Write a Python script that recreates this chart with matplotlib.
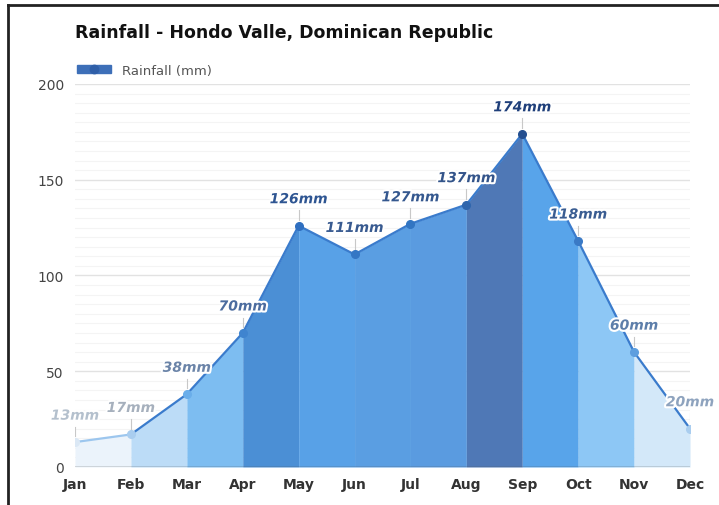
import matplotlib
matplotlib.use('Agg')
from matplotlib import pyplot as plt
from matplotlib.lines import Line2D
from matplotlib.patches import Patch
import matplotlib.patheffects as pe
import numpy as np

months = ['Jan', 'Feb', 'Mar', 'Apr', 'May', 'Jun', 'Jul', 'Aug', 'Sep', 'Oct', 'Nov', 'Dec']
rainfall = [13, 17, 38, 70, 126, 111, 127, 137, 174, 118, 60, 20]
labels = ['13mm', '17mm', '38mm', '70mm', '126mm', '111mm', '127mm', '137mm', '174mm', '118mm', '60mm', '20mm']

# fill colour of each band between two months
band_colors = ['#ebf3fb', '#bcdcf7', '#7dbdf1', '#4b8fd5', '#58a1e7', '#5a9ee2',
               '#5a9be0', '#4f78b6', '#58a4ea', '#8dc7f5', '#d3e8f9']
# colour of the value labels / markers
text_colors = ['#b4c0cd', '#a6b0bd', '#6b84a8', '#4c6c9f', '#2e5592', '#385a90',
               '#35588f', '#33548a', '#1f3f7a', '#3a5d92', '#5d7eaa', '#8ea3be']
marker_colors = ['#dbe8f5', '#a9cdef', '#6aaeea', '#3f84cf', '#2f6fc0', '#3577c4',
                 '#3275c2', '#2f66ad', '#244f90', '#3a7ac6', '#5d9edf', '#a9cdef']

fig = plt.figure(figsize=(7.19, 5.06), dpi=100)
ax = fig.add_axes([0.1043, 0.0751, 0.8554, 0.757])

x = np.arange(len(months))

for i in range(len(months) - 1):
    ax.fill_between(x[i:i + 2], rainfall[i:i + 2], 0, color=band_colors[i], lw=0, zorder=2)

for i in range(len(months) - 1):
    ax.plot(x[i:i + 2], rainfall[i:i + 2], color='#3a7bcc' if rainfall[i] > 30 or rainfall[i + 1] > 30 else '#9cc6ee',
            lw=1.6, zorder=3, solid_capstyle='round')

halo = [pe.withStroke(linewidth=3, foreground='white')]
for i in range(len(months)):
    ax.plot(x[i], rainfall[i], 'o', color=marker_colors[i], ms=5.5, zorder=4)
    ax.plot([x[i], x[i]], [rainfall[i] + 3, rainfall[i] + 8], color='#c8c8c8', lw=0.8, zorder=3)
    ax.annotate(labels[i], (x[i], rainfall[i]), xytext=(0, 14), textcoords='offset points',
                ha='center', va='bottom', fontsize=10, fontweight='bold', fontstyle='italic',
                color=text_colors[i], zorder=5, path_effects=halo)

ax.set_xlim(0, 11)
ax.set_ylim(0, 200)
ax.set_xticks(x)
ax.set_xticklabels(months, fontsize=10, fontweight='bold', color='#333333')
ax.set_yticks([0, 50, 100, 150, 200])
ax.set_yticklabels(['0', '50', '100', '150', '200'], fontsize=10, color='#444444')
ax.set_yticks(np.arange(0, 201, 5), minor=True)
ax.tick_params(axis='both', which='both', length=0, pad=8)
ax.tick_params(axis='x', pad=7)
ax.grid(axis='y', which='major', color='#e2e2e2', lw=1, zorder=0)
ax.grid(axis='y', which='minor', color='#f4f4f4', lw=0.8, zorder=0)
ax.axhline(0, color='#555555', lw=1, zorder=3)
for s in ax.spines.values():
    s.set_visible(False)

fig.text(0.104, 0.935, 'Rainfall - Hondo Valle, Dominican Republic', fontsize=12.5,
         fontweight='bold', color='#111111', va='center')

handle = (Patch(color='#3d6fb8'), Line2D([], [], color='#2f5fa8', marker='o', ms=6, lw=0))
ax.legend([handle], ['Rainfall (mm)'], loc='lower left', bbox_to_anchor=(-0.005, 1.005),
          frameon=False, fontsize=9.5, labelcolor='#555555', handlelength=2.6,
          handleheight=0.6, borderaxespad=0, handletextpad=0.8)

fig.add_artist(Line2D([0.011, 0.011], [0, 0.988], transform=fig.transFigure, color='#222222', lw=2))
fig.add_artist(Line2D([0.011, 1], [0.988, 0.988], transform=fig.transFigure, color='#222222', lw=2))

fig.savefig('out.png', dpi=100)
